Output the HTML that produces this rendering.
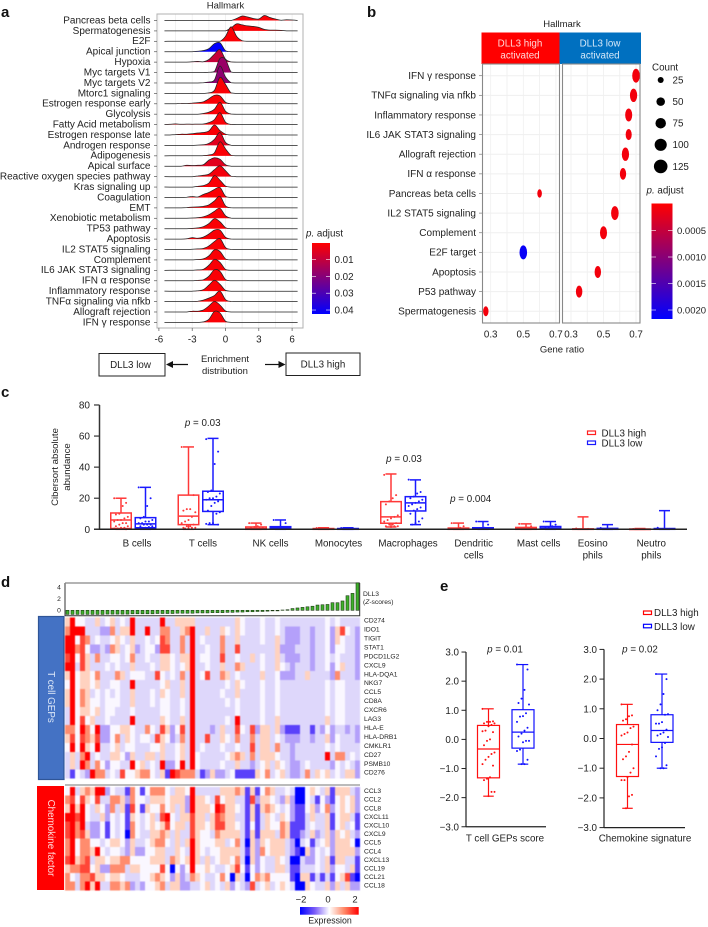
<!DOCTYPE html>
<html lang="en">
<head>
<meta charset="utf-8">
<title>DLL3 hallmark enrichment and immune figure</title>
<style>
html,body{margin:0;padding:0;background:#fff;}
svg{display:block;font-family:"Liberation Sans",Arial,sans-serif;fill:#222;filter:blur(0.3px);}
.pl{font-size:15px;font-weight:bold;fill:#111;}
</style>
</head>
<body>
<svg id="fig" xmlns="http://www.w3.org/2000/svg" width="708" height="927" viewBox="0 0 708 927">
<defs>
<linearGradient id="gradRB" x1="0" y1="0" x2="0" y2="1"><stop offset="0" stop-color="#ff0000"/><stop offset="1" stop-color="#0000ff"/></linearGradient>
<linearGradient id="gradHeat" x1="0" y1="0" x2="1" y2="0"><stop offset="0" stop-color="#0000ff"/><stop offset="0.25" stop-color="#7a5cf8"/><stop offset="0.5" stop-color="#ffffff"/><stop offset="0.75" stop-color="#ff8a68"/><stop offset="1" stop-color="#ff0000"/></linearGradient>
</defs>

<text class="pl" x="1" y="17">a</text>
<text class="pl" x="367" y="17">b</text>
<text class="pl" x="1" y="397">c</text>
<text class="pl" x="1" y="587">d</text>
<text class="pl" x="440" y="591">e</text>

<!-- Panel a -->
<g id="panelA">
<text x="225.5" y="8.5" font-size="9.5" text-anchor="middle">Hallmark</text>
<rect x="157" y="14" width="146" height="314" fill="#fff" stroke="#b0b0b0" stroke-width="1"/>
</g>
<g id="ridgeMarks"></g>
<text x="306" y="236.5" font-size="9.8"><tspan font-style="italic">p.</tspan> adjust</text>
<rect x="312" y="243" width="18" height="71" fill="url(#gradRB)"/>
<g id="ridgeLegend"></g>
<rect x="99" y="353.5" width="66" height="22.5" fill="#fff" stroke="#222" stroke-width="1"/>
<text x="130.5" y="368" font-size="9.8" text-anchor="middle">DLL3 low</text>
<rect x="286" y="353" width="74" height="22.5" fill="#fff" stroke="#222" stroke-width="1"/>
<text x="323" y="367.5" font-size="9.8" text-anchor="middle">DLL3 high</text>
<text x="225" y="362" font-size="9.5" text-anchor="middle">Enrichment</text>
<text x="225" y="374" font-size="9.5" text-anchor="middle">distribution</text>
<path d="M188 364.5H170" stroke="#111" stroke-width="1.2" fill="none"/>
<path d="M166 364.5l7-3.5v7z" fill="#111"/>
<path d="M265 364.5H281" stroke="#111" stroke-width="1.2" fill="none"/>
<path d="M285.5 364.5l-7-3.5v7z" fill="#111"/>

<!-- Panel b -->
<text x="562" y="27" font-size="9.5" text-anchor="middle">Hallmark</text>
<rect x="481.5" y="32.5" width="78" height="31.5" fill="#ff0000"/>
<rect x="559.5" y="32.5" width="81.5" height="31.5" fill="#0070c0"/>
<text x="520" y="46.5" font-size="9.8" style="fill:#ffd9d9" text-anchor="middle">DLL3 high</text>
<text x="520" y="58.5" font-size="9.8" style="fill:#ffd9d9" text-anchor="middle">activated</text>
<text x="600" y="46.5" font-size="9.8" style="fill:#d5e8f8" text-anchor="middle">DLL3 low</text>
<text x="600" y="58.5" font-size="9.8" style="fill:#d5e8f8" text-anchor="middle">activated</text>
<g id="dotMarks"></g>
<text x="562" y="352.5" font-size="9.5" text-anchor="middle">Gene ratio</text>
<text x="652" y="70.5" font-size="9.8">Count</text>
<g id="countLegend"></g>
<text x="646.5" y="193.5" font-size="9.8"><tspan font-style="italic">p.</tspan> adjust</text>
<rect x="651.5" y="203.5" width="21" height="115.5" fill="url(#gradRB)"/>
<g id="dotLegend"></g>

<!-- Panel c -->
<g id="boxC"></g>
<text transform="translate(58,467) rotate(-90)" font-size="9.6" text-anchor="middle">Cibersort absolute</text>
<text transform="translate(70,467) rotate(-90)" font-size="9.6" text-anchor="middle">abundance</text>
<g font-size="9.8" text-anchor="middle">
<text x="137" y="546.5">B cells</text>
<text x="203" y="546.5">T cells</text>
<text x="270.5" y="546.5">NK cells</text>
<text x="338.5" y="546.5">Monocytes</text>
<text x="408" y="546.5">Macrophages</text>
<text x="473.7" y="546.5">Dendritic</text>
<text x="473.7" y="558.5">cells</text>
<text x="538.7" y="546.5">Mast cells</text>
<text x="592.7" y="546.5">Eosino</text>
<text x="592.7" y="558.5">phils</text>
<text x="651.3" y="546.5">Neutro</text>
<text x="651.3" y="558.5">phils</text>
</g>
<text x="202.7" y="426" font-size="9.8" text-anchor="middle"><tspan font-style="italic">p</tspan> = 0.03</text>
<text x="404" y="462" font-size="9.8" text-anchor="middle"><tspan font-style="italic">p</tspan> = 0.03</text>
<text x="470.7" y="502" font-size="9.8" text-anchor="middle"><tspan font-style="italic">p</tspan> = 0.004</text>
<rect x="587.5" y="431" width="8" height="3.5" fill="none" stroke="#ff2020" stroke-width="1.2"/>
<rect x="587.5" y="441" width="8" height="3.5" fill="none" stroke="#1a1aff" stroke-width="1.2"/>
<text x="601.5" y="436.7" font-size="9.8">DLL3 high</text>
<text x="601.5" y="446.3" font-size="9.8">DLL3 low</text>

<!-- Panel d -->
<g id="heatBars"></g>
<text x="363" y="596" font-size="6.7">DLL3</text>
<text x="363" y="604" font-size="6.7">(<tspan font-style="italic">Z</tspan>-scores)</text>
<rect x="38.5" y="616.5" width="25.5" height="163" fill="#4472c4" stroke="#2f5597" stroke-width="1.2"/>
<text transform="translate(48,697) rotate(90)" font-size="9.8" style="fill:#dbe6f7" text-anchor="middle">T cell GEPs</text>
<rect x="37" y="786" width="27" height="104" fill="#ff0000"/>
<text transform="translate(48,838) rotate(90)" font-size="9.8" style="fill:#ffd9d9" text-anchor="middle">Chemokine factor</text>
<g id="heatCells" style="filter:blur(0.5px)"></g>
<g id="heatLabels"></g>
<path d="M65 785H360" stroke="#777" stroke-width="1"/>
<rect x="300" y="907" width="58.7" height="7.7" fill="url(#gradHeat)"/>
<g font-size="9.5" text-anchor="middle">
<text x="301" y="902.5">−2</text>
<text x="328" y="902.5">0</text>
<text x="355" y="902.5">2</text>
</g>
<text x="330" y="923.5" font-size="8.8" text-anchor="middle">Expression</text>

<!-- Panel e -->
<g id="boxE"></g>
<rect x="643.5" y="611" width="8" height="3.5" fill="none" stroke="#ff0000" stroke-width="1.2"/>
<rect x="643.5" y="624.3" width="8" height="3.5" fill="none" stroke="#0000ff" stroke-width="1.2"/>
<text x="654" y="616" font-size="9.8">DLL3 high</text>
<text x="654" y="629.8" font-size="9.8">DLL3 low</text>
<text x="505" y="652.5" font-size="9.8" text-anchor="middle"><tspan font-style="italic">p</tspan> = 0.01</text>
<text x="640" y="652.5" font-size="9.8" text-anchor="middle"><tspan font-style="italic">p</tspan> = 0.02</text>
<text x="505" y="841.5" font-size="9.8" text-anchor="middle">T cell GEPs score</text>
<text x="645" y="841.5" font-size="9.8" text-anchor="middle">Chemokine signature</text>
</svg>

<script>
/* ---------- Panel a data ---------- */
var ridgeLabels = ["Pancreas beta cells","Spermatogenesis","E2F","Apical junction","Hypoxia","Myc targets V1","Myc targets V2","Mtorc1 signaling","Estrogen response early","Glycolysis","Fatty Acid metabolism","Estrogen response late","Androgen response","Adipogenesis","Apical surface","Reactive oxygen species pathway","Kras signaling up","Coagulation","EMT","Xenobiotic metabolism","TP53 pathway","Apoptosis","IL2 STAT5 signaling","Complement","IL6 JAK STAT3 signaling","IFN α response","Inflammatory response","TNFα signaling via nfkb","Allograft rejection","IFN γ response"];
var ridgeP = [0.001,0.001,0.001,0.042,0.0095,0.017,0.019,0.001,0.001,0.001,0.001,0.001,0.005,0.001,0.005,0.002,0.001,0.001,0.001,0.001,0.001,0.001,0.001,0.001,0.001,0.001,0.001,0.001,0.001,0.001];
var ridgeGrid = [-5.5,-5,-4.5,-4,-3.5,-3,-2.5,-2,-1.5,-1,-0.5,0,0.5,1,1.5,2,2.5,3,3.5,4,4.5,5,5.5,6,6.5];
var ridgeDensity = [
[0,0,0,0,0,0,0,0,0,0,0,0,0,2,4.5,3.5,2,1.5,5,3,1.5,0.3,0.7,0.5,0],
[0,0,0,0,0,0,0,0,0,0,0,0,3,7,6,5,4.5,3.5,1.5,0.8,0.8,0.5,0,0,0],
[0,0,0,0,0,0,0,0,0,0,0,5,14.5,5,0.6,0,0,0,0,0,0,0,0,0,0],
[0,0,0,0,0,0,0.4,1.2,3,8,9,1,0,0,0,0,0,0,0,0,0,0,0,0,0],
[0,0,0,0,0,0.3,0.7,0.3,2.5,8,12.5,3,0.2,0,0,0,0,0,0,0,0,0,0,0,0],
[0,0,0,0,0,0,0,0,0.2,1,14,13,0.5,0,0,0,0,0,0,0,0,0,0,0,0],
[0,0,0,0,0,0,0,0.3,1,3,17,6,0.3,0,0,0,0,0,0,0,0,0,0,0,0],
[0,0,0,0,0,0,0,0,0.5,3,16,9,0.5,0,0,0,0,0,0,0,0,0,0,0,0],
[0,0,0,0.3,0.2,0.7,1.2,2,5,8.5,8,1.5,0,0,0,0,0,0,0,0,0,0,0,0,0],
[0,0,0,0,0,0,0,0.7,2,5,12,3,0.2,0,0,0,0,0,0,0,0,0,0,0,0],
[0,0.3,0.7,0.3,0.5,0.4,0.5,0.6,2,5,12,2.5,0.2,0,0,0,0,0,0,0,0,0,0,0,0],
[0,0,0.4,0.8,0.8,1.3,2,2.5,4,10,4.5,0.8,0,0,0,0,0,0,0,0,0,0,0,0,0],
[0,0,0,0,0,0,0.3,0.6,2,6,13,3,0.2,0,0,0,0,0,0,0,0,0,0,0,0],
[0,0,0,0,0,0,0,0.2,0.8,3,14,7,0.5,0,0,0,0,0,0,0,0,0,0,0,0],
[0,0,0,0,1,0.7,1,1.5,6,8.5,7,1.5,0,0,0,0,0,0,0,0,0,0,0,0,0],
[0,0,0,0,0,0,0.7,1.3,2.5,7,11,6,0.5,0,0,0,0,0,0,0,0,0,0,0,0],
[0,0,0,0,0,0,0.7,1.5,4,11.5,7,1,0,0,0,0,0,0,0,0,0,0,0,0,0],
[0,0,0,0,0.3,1,0.5,3,5,8,10,1.2,0,0,0,0,0,0,0,0,0,0,0,0,0],
[0,0,0,0,0.3,0.8,1,1.5,3,7,11.5,2,0.1,0,0,0,0,0,0,0,0,0,0,0,0],
[0,0,0,0,0,0.3,0.7,1.5,3.5,7,10,2.5,0.2,0,0,0,0,0,0,0,0,0,0,0,0],
[0,0,0,0,0,0.3,0.8,2,5,10,7,1,0,0,0,0,0,0,0,0,0,0,0,0,0],
[0,0,0,0,0.3,1.5,0.8,2,5,9,9,1.8,0.1,0,0,0,0,0,0,0,0,0,0,0,0],
[0,0,0,0,0,0.3,0.6,1,3.5,8,11,2,0.1,0,0,0,0,0,0,0,0,0,0,0,0],
[0,0,0,0,0,0,0.4,1,4,10,8.5,1,0,0,0,0,0,0,0,0,0,0,0,0,0],
[0,0,0,0,0,0,0.4,1,5,11,8,0.8,0,0,0,0,0,0,0,0,0,0,0,0,0],
[0,0,0,0,0,0,0.4,1,4.5,11,9.5,1.2,0,0,0,0,0,0,0,0,0,0,0,0,0],
[0,0,0,0,0,0,0.4,1.5,6,11,7,0.8,0,0,0,0,0,0,0,0,0,0,0,0,0],
[0,0,0,0,0,0,0.3,1.5,3.5,6,10.5,2,0.1,0,0,0,0,0,0,0,0,0,0,0,0],
[0,0,0,0,0,0.8,0.8,2,6,10.5,7,1,0,0,0,0,0,0,0,0,0,0,0,0,0],
[0,0,0,0,0,0,0,0.5,3,11,9.5,1.2,0,0,0,0,0,0,0,0,0,0,0,0,0]
];
var ridgeTicks = [-6,-3,0,3,6];
var ridgeLegendTicks = [0.01,0.02,0.03,0.04];

/* ---------- Panel b data ---------- */
var dotLabels = ["IFN γ response","TNFα signaling via nfkb","Inflammatory response","IL6 JAK STAT3 signaling","Allograft rejection","IFN α response","Pancreas beta cells","IL2 STAT5 signaling","Complement","E2F target","Apoptosis","P53 pathway","Spermatogenesis"];
var dotRatio = [0.70,0.685,0.655,0.655,0.635,0.62,0.60,0.57,0.50,0.50,0.465,0.35,0.27];
var dotFacet = ["low","low","low","low","low","low","high","low","low","high","low","low","high"];
var dotCount = [125,110,100,60,110,70,20,125,100,125,75,75,40];
var dotP = [0.0001,0.0001,0.0001,0.0001,0.0001,0.0001,0.0001,0.0001,0.0001,0.0021,0.0001,0.0001,0.0001];
var ratioTicks = [0.3,0.5,0.7];
var countLegendValues = [25,50,75,100,125];
var dotLegendTicks = [0.0005,0.0010,0.0015,0.0020];

/* ---------- Panel c data ---------- */
var cTicks = [0,20,40,60,80];
var cHighStats = [[0,0.5,6,10.5,20],[0,3,8.5,22,53],[0,0,0.5,1.5,4],[0,0,0.1,0.5,1],[1.5,3.9,8,17.8,35.6],[0,0,0.3,0.8,4],[0,0,0.5,1.2,3.5],[0,0,0,0.3,8],[0,0,0,0.2,0.5]];
var cLowStats = [[0,1,3.5,7.5,27],[3,11.5,19,24.5,58.5],[0,0.2,1,1.7,6],[0,0,0.1,0.5,1],[3,11.8,17,21,31.8],[0,0.2,0.5,1,5],[0,0.3,0.8,1.8,5],[0,0,0.2,0.6,3],[0,0,0.2,0.5,12]];
var cHighPoints = [
[20,17,15,10,9.5,8,7,6,6,5,4,4,3,2,2,1,1,0.5,0.5,0],
[53,22,13,13,12,11,8,6,5,4,3,2,2,1,1,1,0.5,0.5],
[4,3,2,1.5,1,1,0.5,0.5],
[0.8,0.5,0.3],
[35,22,20,18,16,9,8,7,6,5,4,3,3,2,2,2,1.5],
[4,2,1,0.5],
[3.5,2,1,1,0.5],
[0.5,0.3],
[0.2]
];
var cLowPoints = [
[27,20,15,8,7,6,5,5,4,4,3,3,3,2,2,1.5,1,1,0.5,0.5],
[58,50,42,25,24,23,21,20,20,19,18,17,15,12,11,10,4,4,3.5,3],
[6,4,1.5,1,1,1,0.5,0.5,0.5],
[0.8,0.5,0.3],
[32,24,23,21,20,19,18,17,16,15,14,13,12,10,7,5,4,3],
[5,3,1,0.5,0.5],
[5,3,2,1,1,0.5,0.5],
[0.8,0.3],
[1,0.3]
];

/* ---------- Panel d data ---------- */
var dll3Z = [-0.7,-0.7,-0.7,-0.7,-0.7,-0.7,-0.7,-0.7,-0.65,-0.65,-0.65,-0.65,-0.65,-0.6,-0.6,-0.6,-0.6,-0.6,-0.55,-0.55,-0.55,-0.55,-0.5,-0.5,-0.5,-0.5,-0.45,-0.45,-0.45,-0.4,-0.4,-0.4,-0.35,-0.35,-0.3,-0.3,-0.25,-0.25,-0.2,-0.2,-0.15,-0.1,-0.1,0.05,0.1,0.3,0.4,0.5,0.6,0.7,0.9,0.95,1,1.3,1.3,1.6,2.5,2.9,4.7];
var tGenes = ["CD274","IDO1","TIGIT","STAT1","PDCD1LG2","CXCL9","HLA-DQA1","NKG7","CCL5","CD8A","CXCR6","LAG3","HLA-E","HLA-DRB1","CMKLR1","CD27","PSMB10","CD276"];
var chemoGenes = ["CCL3","CCL2","CCL8","CXCL11","CXCL10","CXCL9","CCL5","CCL4","CXCL13","CCL19","CCL21","CCL18"];
var zTicks = [0,2,4];
/* expression values in half-units (value × 0.5 = z-score) */
var tExpression = [
[1,4,0,0,-1,-1,1,-1,0,1, -1,0,-1,4,-1,-1,-1,-1,-1,4, -1,-1,1,1,1,1,-1,-1,-1,-1, -1,-1,-1,-1,1,0,-1,-1,-1,0, -1,-1,0,-1,-1,-1,-1,-1,-1,-1, -1,-1,0,-1,0,-1,-1,-1,-1],
[2,4,4,4,-1,-1,-1,-2,-2,2, -1,1,1,4,-1,-1,4,-1,-1,2, 2,-1,-1,1,2,4,-1,-1,1,-1, -1,1,0,-1,1,0,-1,-1,-1,0, -1,-1,0,-1,-2,-2,-2,-1,-1,-2, -1,-1,0,-2,1,3,0,-1,-2],
[4,4,0,3,2,-1,0,-1,-1,0, 1,0,-1,1,-1,-1,0,-1,0,3, 2,-1,-1,2,-1,4,-1,0,-1,-1, -1,2,-1,-1,1,-1,-1,-1,-1,0, -1,-1,1,-1,-2,-2,-2,-1,-1,-2, -1,-1,0,-2,1,0,-1,-1,-2],
[4,4,2,3,0,-2,-2,-1,-2,2, 1,-1,0,1,-2,-1,0,0,-2,3, 3,-1,-1,2,-1,4,-1,-1,0,-1, -1,2,-1,-1,3,-1,-1,-1,-1,-1, -1,-1,1,-2,-2,-2,-1,-1,-1,-2, -1,-1,0,-2,0,0,-1,-1,-2],
[3,4,0,3,1,-1,2,-1,-1,0, 0,-1,0,2,-1,-1,0,-1,-1,1, 1,0,-1,1,1,4,-1,0,0,-1, -1,3,-1,-1,0,-1,-1,1,-1,0, -1,-1,1,-1,-2,-2,-2,-1,-1,-2, -1,-1,0,-1,0,-1,-1,-1,-2],
[4,4,-1,3,1,-1,-1,-1,0,-1, 0,-1,-1,1,-1,-1,-1,0,-1,1, 1,0,-1,0,1,4,-1,-1,0,-1, -1,1,-1,-1,2,1,-1,-1,-1,0, -1,-1,1,0,-1,-2,-1,-1,-1,-2, -1,-1,0,-2,0,1,-1,-1,-2],
[1,4,0,1,1,0,2,-1,-1,-1, 2,1,-1,0,0,0,-1,-1,3,0, -1,0,-1,2,-1,4,-1,0,3,-1, -1,2,1,-1,0,-1,-1,-1,-1,1, -1,-1,0,-2,-2,-2,-1,-1,1,-1, -1,-1,-1,-2,2,-1,-1,-1,-2],
[0,4,0,1,1,0,1,-1,-1,0, 0,-1,-1,4,-1,-1,-1,-1,-1,0, 1,-1,-1,1,-1,4,-1,-1,-1,-1, -1,-1,0,-1,1,0,-1,-1,-1,0, -1,-1,0,-1,-1,-1,-1,-1,-1,-1, -1,-1,0,-1,0,0,-1,-1,-1],
[1,4,0,2,1,-1,0,-1,0,-1, 0,-1,-1,1,-1,-1,-1,0,-1,1, 0,-1,-1,1,-1,4,-1,-1,-1,-1, -1,0,-1,-1,1,-1,-1,-1,-1,0, -1,-1,0,-1,-1,-1,-1,-1,-1,-1, -1,-1,0,-1,0,0,-1,-1,-1],
[1,4,0,2,1,0,0,-1,0,0, 0,-1,-1,1,-1,-1,-1,0,-1,0, 0,-1,-1,0,-1,4,-1,-1,-1,-1, -1,-1,0,-1,0,-1,-1,-1,-1,0, -1,-1,0,-1,-1,-1,-1,-1,-1,-1, -1,-1,0,-1,0,0,-1,-1,-1],
[-1,4,0,1,1,0,1,-1,0,0, -1,-1,-1,0,-1,-1,-1,-1,-1,0, 0,-1,-1,0,-1,4,-1,-1,-1,-1, -1,-1,-1,-1,0,-1,-1,-1,-1,0, -1,-1,0,-1,-1,-1,-1,-1,-1,-1, -1,-1,0,-1,0,0,-1,-1,-1],
[-1,4,0,3,0,1,-1,-1,0,-1, -1,-1,-1,4,-1,-1,-1,-1,-1,1, 0,-1,-1,1,-1,4,-1,-1,-1,-1, -1,-1,0,-1,4,-1,-1,-1,-1,0, -1,-1,1,-1,-1,-1,-1,-1,-1,-1, -1,-1,1,-1,0,0,-1,-1,-1],
[2,2,0,4,2,0,4,-2,-2,0, 0,1,1,0,-1,-1,2,0,-1,3, 1,-2,0,3,-1,4,-1,-1,-1,-2, -1,1,-1,-1,3,0,-1,3,-2,1, 1,-1,1,-2,-3,-3,-3,-1,-1,-3, -1,-2,0,-2,-1,-1,-2,-1,-2],
[1,3,0,3,2,1,3,-2,-2,0, 2,-1,1,0,-1,0,0,-1,3,1, 0,-2,-1,2,-1,4,-1,-1,3,-1, -1,1,0,-1,2,-1,-1,2,-1,1, 1,-1,0,-1,-2,-2,-2,-1,-1,-2, -1,-1,1,-2,0,-1,-1,-1,-2],
[0,4,0,4,1,0,4,-1,-1,0, 1,-1,0,0,-1,-1,-1,0,0,1, -1,-1,0,1,-1,4,-1,0,-1,-1, -1,0,-1,-1,0,-1,-1,3,-1,1, 1,-1,2,-1,-1,-2,-1,-1,-1,-1, -1,-1,0,-1,0,-1,-1,-1,-1],
[-1,1,-1,2,4,-1,0,-1,-1,1, 1,0,-2,1,-1,-1,1,1,-1,1, -1,-1,0,1,-1,4,0,-1,-1,-1, -1,-1,0,1,2,1,-1,2,-1,1, 1,1,0,-1,-1,-2,-1,-1,-1,-1, -1,-1,4,-1,2,2,-1,0,-1],
[-1,1,-1,4,2,-1,2,0,-2,0, 0,-1,-1,4,0,1,-1,0,-1,4, -2,-2,0,4,-1,4,0,-1,-1,-1, -1,0,-1,-1,1,-1,-1,-2,-1,0, 1,-1,1,0,-1,-2,-2,-1,0,-1, -1,-1,-1,-2,0,-1,0,-1,-2],
[-1,-3,0,-1,-2,4,2,2,-1,0, -1,3,0,0,1,2,2,0,-1,1, -3,4,3,2,2,2,-1,-3,-2,1, -2,-2,-1,0,-3,-3,-3,-3,1,0, 2,-1,0,1,-1,-2,-2,-1,2,-1, 1,0,1,-1,0,-1,1,1,-2]
];
var chemoExpression = [
[0,4,-1,1,2,1,4,4,-2,0, -1,-1,-3,2,0,-3,0,2,2,2, 0,-1,1,1,0,4,-1,-1,-1,-1, -1,1,1,1,2,1,-3,1,-3,0, 2,1,-1,-1,0,-1,-4,-4,0,1, 0,-1,1,-3,1,1,1,-1,-2],
[2,3,0,3,1,0,3,-1,-1,2, 2,1,-2,2,0,0,-1,1,1,1, 0,1,1,1,-2,4,1,1,0,-1, 3,0,1,1,-1,-1,-3,3,-2,1, 1,0,-1,-2,1,-2,-4,-4,0,-1, -3,0,-2,-3,0,1,0,1,-2],
[1,4,1,4,0,-1,1,0,-2,2, -1,1,-3,3,0,-3,1,0,0,2, 0,1,-1,1,-2,4,1,1,1,0, 4,3,1,1,0,-1,-3,1,-3,1, 2,1,0,-1,0,-2,-3,-3,0,1, -2,0,2,-2,0,1,0,1,-2],
[4,4,3,4,0,-1,-1,1,-2,0, -1,0,-3,1,0,-1,0,1,-1,3, 4,0,-1,1,1,3,1,1,-1,1, 3,2,1,1,-1,-1,-3,1,-3,-1, 1,0,-1,1,0,-2,-3,-3,-1,1, -1,-1,1,-3,0,1,1,-1,-3],
[3,4,2,4,-1,-2,-2,0,-3,0, -1,0,-3,2,0,-1,0,1,0,1, 3,0,1,1,-1,3,1,1,0,1, 3,3,1,1,0,-1,-3,0,-3,-1, 1,0,0,2,1,-3,-3,-3,-1,0, -1,-1,1,-3,0,1,-1,0,-3],
[3,4,2,3,1,-2,-2,0,-3,0, -1,0,-4,2,0,-1,-1,1,1,2, 1,-1,1,-1,-1,3,1,0,0,-1, 2,1,1,1,1,-1,-3,1,-3,1, 1,1,-1,2,1,-3,-3,-2,-1,1, -2,-1,1,-2,1,0,1,-1,-2],
[2,4,0,2,2,0,0,-1,0,1, 1,0,-2,1,-1,-1,0,1,2,2, 0,-1,1,-1,1,4,1,0,0,0, 1,1,-1,0,2,-1,-4,1,-2,1, 0,1,1,1,-1,-2,-4,-1,0,-3, -1,0,1,-2,1,1,1,0,-4],
[2,4,0,2,2,1,4,0,-1,0, 0,-1,-2,1,-2,-2,0,0,1,1, -1,-1,1,0,-1,4,1,0,-1,0, 0,1,1,1,1,-1,-3,1,-2,2, 0,1,1,1,-1,-2,-3,-4,1,-2, 0,-1,0,-2,1,1,1,1,-2],
[3,4,1,2,3,-1,1,1,0,1, 1,2,2,0,0,0,0,1,1,1, -1,2,1,0,1,4,1,-1,1,-1, 0,1,1,0,2,-1,-4,1,-2,0, -1,-1,1,0,-1,-4,-4,-1,-2,-2, 0,-1,1,-3,1,1,-1,-1,-3],
[1,2,2,3,3,0,1,-2,-2,2, 2,2,-1,1,1,0,0,0,0,3, 0,-4,0,-2,0,4,0,0,1,0, -1,-1,0,1,3,0,-3,0,-2,0, -1,-1,1,1,-1,-3,-3,-1,-1,-1, 0,-1,1,-2,0,0,-1,1,-3],
[2,0,-1,2,2,3,1,1,0,1, 1,0,-1,-1,-1,0,0,1,2,1, 0,-2,1,-2,-1,2,1,0,-1,-1, 0,2,0,-4,1,-1,-4,0,2,1, 2,0,0,0,0,-3,-4,1,1,-3, -1,-3,-1,-3,0,1,3,-3,-4],
[2,2,-1,2,4,1,4,-1,-1,2, 2,1,2,-2,-1,-2,0,0,1,2, -1,1,1,-2,-2,-1,-1,0,1,-1, 0,-1,1,-2,0,-1,-2,3,-1,0, 1,-1,0,1,0,-1,-4,-4,1,0, -1,-1,1,-2,1,-1,1,-2,-2]
];

/* ---------- Panel e data ---------- */
var eTickValues = [3,2,1,0,-1,-2,-3];
var gepsHighStats = [-1.95,-1.32,-0.33,0.48,1.05];
var gepsLowStats = [-0.85,-0.3,0.25,1.02,2.57];
var chemoHighStats = [-2.35,-1.28,-0.2,0.47,1.15];
var chemoLowStats = [-1,-0.13,0.27,0.8,2.17];
var gepsHighPoints = [1.05,0.62,0.6,0.6,0.55,0.55,0.5,0.45,0.3,0.28,0.25,0,-0.05,-0.2,-0.45,-0.5,-0.6,-0.7,-0.85,-0.9,-1.3,-1.35,-1.4,-1.8,-1.8,-1.95];
var gepsLowPoints = [2.57,2.4,1.7,1.4,1.25,1.2,0.9,0.8,0.78,0.6,0.4,0.3,0.2,0.1,-0.05,-0.05,-0.1,-0.35,-0.4,-0.7,-0.85,-0.85];
var chemoHighPoints = [1.15,0.78,0.75,0.65,0.6,0.4,0.35,0.2,0.15,0.1,-0.2,-0.45,-0.6,-0.7,-1,-1.15,-1.3,-1.4,-1.4,-1.9,-1.95,-2.35];
var chemoLowPoints = [2.17,2,1.5,1.15,0.95,0.82,0.8,0.55,0.5,0.5,0.3,0.2,0.15,0.1,0.05,-0.15,-0.3,-0.35,-0.6,-0.9,-1,-1];

/* ---------- helpers ---------- */
var NS = "http://www.w3.org/2000/svg";
function add(parent, tag, attrs, txt) {
  var n = document.createElementNS(NS, tag);
  for (var k in attrs) { n.setAttribute(k, attrs[k]); }
  if (txt !== undefined) { n.textContent = txt; }
  parent.appendChild(n);
  return n;
}
function $(id) { return document.getElementById(id); }
function mix(a, b, t) {
  return "rgb(" + Math.round(a[0] + (b[0] - a[0]) * t) + "," + Math.round(a[1] + (b[1] - a[1]) * t) + "," + Math.round(a[2] + (b[2] - a[2]) * t) + ")";
}
function pColor(p, lo, hi) {
  var t = Math.max(0, Math.min(1, (p - lo) / (hi - lo)));
  return mix([255, 0, 0], [0, 0, 255], t);
}

/* ---------- Panel a ---------- */
(function () {
  var g = $("ridgeMarks");
  function xA(v) { return 225.5 + v * 11.1; }
  function yA(i) { return 20.5 + i * 10.41; }
  var gridVals = [-6, -4.5, -3, -1.5, 0, 1.5, 3, 4.5, 6];
  gridVals.forEach(function (v) {
    var el = add(g, "line", { x1: xA(v), x2: xA(v), y1: 14.5, y2: 327.5, stroke: "#eeeeee", "stroke-width": 0.8 });
    
    
  });
  ridgeLabels.forEach(function (label, i) {
    var y0 = yA(i);
    var lab = add(g, "text", { x: 150.5, y: y0 + 2.9, "font-size": 10, "text-anchor": "end" }, label);
    
    
    var tk = add(g, "line", { x1: 154, x2: 157, y1: y0, y2: y0, stroke: "#555", "stroke-width": 0.7 });
    
    
  });
  ridgeLabels.forEach(function (label, i) {
    var y0 = yA(i);
    var d = ridgeDensity[i];
    var pts = ridgeGrid.map(function (v, k) { return [xA(v), y0 - d[k]]; });
    var path = "M" + pts[0][0] + " " + pts[0][1];
    for (var k = 0; k < pts.length - 1; k++) {
      var p0 = pts[Math.max(0, k - 1)], p1 = pts[k], p2 = pts[k + 1], p3 = pts[Math.min(pts.length - 1, k + 2)];
      var c1x = p1[0] + (p2[0] - p0[0]) / 6, c1y = Math.min(y0, p1[1] + (p2[1] - p0[1]) / 6);
      var c2x = p2[0] - (p3[0] - p1[0]) / 6, c2y = Math.min(y0, p2[1] - (p3[1] - p1[1]) / 6);
      path += "C" + c1x.toFixed(1) + " " + c1y.toFixed(1) + " " + c2x.toFixed(1) + " " + c2y.toFixed(1) + " " + p2[0].toFixed(1) + " " + p2[1].toFixed(1);
    }
    var area = add(g, "path", { d: path + "L" + pts[pts.length - 1][0] + " " + y0 + "L" + pts[0][0] + " " + y0 + "Z", fill: pColor(ridgeP[i], 0.0002, 0.0424), stroke: "none" });
    
    
    var line = add(g, "path", { d: path, fill: "none", stroke: "#222", "stroke-width": 0.75 });
    
    
  });
  ridgeTicks.forEach(function (v) {
    var tk = add(g, "line", { x1: xA(v), x2: xA(v), y1: 328, y2: 331, stroke: "#555", "stroke-width": 0.7 });
    
    
    var t = add(g, "text", { x: xA(v), y: 342.5, "font-size": 9.8, "text-anchor": "middle" }, String(v));
    
    
  });
  var lg = $("ridgeLegend");
  ridgeLegendTicks.forEach(function (v) {
    var y = 242.7 + v * 1683;
    var a = add(lg, "line", { x1: 312, x2: 316, y1: y, y2: y, stroke: "#fff", "stroke-width": 0.6 });
    
    
    var b = add(lg, "line", { x1: 326, x2: 330, y1: y, y2: y, stroke: "#fff", "stroke-width": 0.6 });
    
    
    var t = add(lg, "text", { x: 334.5, y: y + 3.4, "font-size": 9.8 }, v.toFixed(2));
    
    
  });
})();

/* ---------- Panel b ---------- */
(function () {
  var g = $("dotMarks");
  function xHigh(r) { return 490.7 + (r - 0.3) * 163; }
  function xLow(r) { return 571 + (r - 0.3) * 162.5; }
  function yB(i) { return 75.7 + i * 19.63; }
  var bg1 = add(g, "rect", { x: 482.5, y: 64, width: 77, height: 259, fill: "#fff" });
  
  
  var bg2 = add(g, "rect", { x: 562.5, y: 64, width: 77.5, height: 259, fill: "#fff" });
  
  
  [0.3, 0.4, 0.5, 0.6, 0.7].forEach(function (r) {
    var a = add(g, "line", { x1: xHigh(r), x2: xHigh(r), y1: 64, y2: 323, stroke: "#efefef", "stroke-width": 0.8 });
    
    
    var b = add(g, "line", { x1: xLow(r), x2: xLow(r), y1: 64, y2: 323, stroke: "#efefef", "stroke-width": 0.8 });
    
    
  });
  dotLabels.forEach(function (label, i) {
    var y = yB(i);
    var a = add(g, "line", { x1: 482.5, x2: 559.5, y1: y, y2: y, stroke: "#efefef", "stroke-width": 1 });
    
    
    var b = add(g, "line", { x1: 562.5, x2: 640, y1: y, y2: y, stroke: "#efefef", "stroke-width": 1 });
    
    
    var t = add(g, "text", { x: 476, y: y + 3.3, "font-size": 10, "text-anchor": "end" }, label);
    
    
    var tk = add(g, "line", { x1: 479, x2: 482, y1: y, y2: y, stroke: "#777", "stroke-width": 0.7 });
    
    
  });
  var f1 = add(g, "rect", { x: 482.5, y: 64, width: 77, height: 259, fill: "none", stroke: "#888", "stroke-width": 1.1 });
  
  
  var f2 = add(g, "rect", { x: 562.5, y: 64, width: 77.5, height: 259, fill: "none", stroke: "#888", "stroke-width": 1.1 });
  
  
  dotLabels.forEach(function (label, i) {
    var r = dotRatio[i];
    var ry = 2.4 + Math.sqrt(dotCount[i] / 125) * 4.6;
    var x = dotFacet[i] === "high" ? xHigh(r) : xLow(r);
    var el = add(g, "ellipse", { cx: x, cy: yB(i), rx: ry * 0.54, ry: ry, fill: pColor(dotP[i], 0, 0.00217) });
    
    
  });
  ratioTicks.forEach(function (r) {
    var a = add(g, "text", { x: xHigh(r), y: 337.5, "font-size": 9.8, "text-anchor": "middle" }, r.toFixed(1));
    
    
    var b = add(g, "text", { x: xLow(r), y: 337.5, "font-size": 9.8, "text-anchor": "middle" }, r.toFixed(1));
    
    
  });
  var cl = $("countLegend");
  countLegendValues.forEach(function (c, i) {
    var y = 80 + i * 21.6;
    var r = 3 + (Math.sqrt(c / 125) - 0.447) / 0.553 * 3.8;
    var el = add(cl, "circle", { cx: 660.7, cy: y, r: r, fill: "#000" });
    
    
    var t = add(cl, "text", { x: 672.5, y: y + 3.4, "font-size": 9.8 }, String(c));
    
    
  });
  var dl = $("dotLegend");
  dotLegendTicks.forEach(function (v) {
    var y = 204 + v * 53000;
    var a = add(dl, "line", { x1: 651.5, x2: 656, y1: y, y2: y, stroke: "#fff", "stroke-width": 0.6 });
    
    
    var b = add(dl, "line", { x1: 668, x2: 672.5, y1: y, y2: y, stroke: "#fff", "stroke-width": 0.6 });
    
    
    var t = add(dl, "text", { x: 677, y: y + 3.4, "font-size": 9.5 }, v.toFixed(4));
    
    
  });
})();

/* ---------- box helper ---------- */
function drawBox(g, cx, w, cap, stats, pts, yf, color, sw, jit) {
  var x0 = cx - w / 2;
  var whisk = add(g, "line", { x1: cx, x2: cx, y1: yf(stats[0]), y2: yf(stats[4]), stroke: color, "stroke-width": sw });
  
  
  var capLo = add(g, "line", { x1: cx - cap / 2, x2: cx + cap / 2, y1: yf(stats[0]), y2: yf(stats[0]), stroke: color, "stroke-width": sw });
  
  
  var capHi = add(g, "line", { x1: cx - cap / 2, x2: cx + cap / 2, y1: yf(stats[4]), y2: yf(stats[4]), stroke: color, "stroke-width": sw });
  
  
  var rect = add(g, "rect", { x: x0, y: yf(stats[3]), width: w, height: Math.max(0.5, yf(stats[1]) - yf(stats[3])), fill: "#fff", stroke: color, "stroke-width": sw });
  
  
  var med = add(g, "line", { x1: x0, x2: x0 + w, y1: yf(stats[2]), y2: yf(stats[2]), stroke: color, "stroke-width": sw });
  
  
  pts.forEach(function (v, i) {
    var off = (((i * 7) % 9) - 4) * jit;
    var dot = add(g, "circle", { cx: cx + off, cy: yf(v), r: 1, fill: color });
    
    
  });
}

/* ---------- Panel c ---------- */
(function () {
  var g = $("boxC");
  function yC(v) { return 529.3 - v * 1.554; }
  function catHigh(i) { return i <= 6 ? 121 + 67.5 * i : 526 + 57 * (i - 6); }
  cHighStats.forEach(function (s, i) {
    drawBox(g, catHigh(i), 20.5, 11, s, cHighPoints[i], yC, "#ff3838", 1.5, 1.7);
    drawBox(g, catHigh(i) + 24.5, 20.5, 11, cLowStats[i], cLowPoints[i], yC, "#1a1aff", 1.5, 1.7);
  });
  var ax = add(g, "line", { x1: 99.5, x2: 99.5, y1: 405, y2: 530, stroke: "#333", "stroke-width": 1.5 });
  
  
  var base = add(g, "line", { x1: 94, x2: 687, y1: 529.3, y2: 529.3, stroke: "#222", "stroke-width": 1.5 });
  
  
  cTicks.forEach(function (v) {
    var tk = add(g, "line", { x1: 94, x2: 99.5, y1: yC(v), y2: yC(v), stroke: "#333", "stroke-width": 1.2 });
    
    
    var t = add(g, "text", { x: 90, y: yC(v) + 3.5, "font-size": 10, "text-anchor": "end" }, String(v));
    
    
  });
})();

/* ---------- Panel d ---------- */
(function () {
  var hb = $("heatBars");
  var hc = $("heatCells");
  var hl = $("heatLabels");
  function xCol(i) { return 65 + i * 5; }
  function yZ(v) { return 610.3 - v * 5.83; }
  var frame = add(hb, "path", { d: "M65 616V583", stroke: "#333", "stroke-width": 1, fill: "none" });
  
  
  var top = add(hb, "path", { d: "M65 583H360", stroke: "#888", "stroke-width": 1.2, fill: "none" });
  
  
  var rb = add(hb, "path", { d: "M65 615.7H359.7V583", stroke: "#333", "stroke-width": 1, fill: "none" });
  
  
  zTicks.forEach(function (v) {
    var t = add(hb, "text", { x: 59, y: yZ(v) + 2.4, "font-size": 6.7, "text-anchor": "middle" }, String(v));
    
    
  });
  dll3Z.forEach(function (v, i) {
    var y = Math.min(yZ(v), yZ(0));
    var h = Math.abs(yZ(v) - yZ(0));
    var el = add(hb, "rect", { x: xCol(i) + 1, y: y, width: 3, height: h, fill: "#3fb02c", stroke: "#1d3a14", "stroke-width": 0.6 });
    
    
  });
  var stops = [[-2, [0, 0, 255]], [-1.5, [90, 65, 250]], [-1, [180, 160, 250]], [-0.5, [222, 215, 251]], [0, [250, 247, 255]], [0.5, [255, 210, 192]], [1, [255, 140, 110]], [2, [255, 0, 0]]];
  function heatColor(z) {
    for (var s = 0; s < stops.length - 1; s++) {
      if (z <= stops[s + 1][0]) {
        return mix(stops[s][1], stops[s + 1][1], (z - stops[s][0]) / (stops[s + 1][0] - stops[s][0]));
      }
    }
    return "rgb(255,0,0)";
  }
  function drawHeat(rows, genes, top, step, labelShift) {
    rows.forEach(function (row, r) {
      row.forEach(function (v, c) {
        var cell = add(hc, "rect", { x: xCol(c), y: top + r * step, width: 5.05, height: step + 0.05, fill: heatColor(v * 0.5), "shape-rendering": "crispEdges" });
        
        
      });
      var t = add(hl, "text", { x: 364, y: top + (r + 0.5) * step + labelShift + 2.3, "font-size": 6.7 }, genes[r]);
      
      
    });
  }
  drawHeat(tExpression, tGenes, 617.5, 8.95, -1.7);
  drawHeat(chemoExpression, chemoGenes, 787, 8.6, -0.5);
})();

/* ---------- Panel e ---------- */
(function () {
  var g = $("boxE");
  function yL(v) { return 739.4 - v * 29.12; }
  function yR(v) { return 738.5 - v * 29.7; }
  function axis(x, xEnd, yf) {
    var ax = add(g, "line", { x1: x, x2: x, y1: yf(3), y2: yf(-3), stroke: "#222", "stroke-width": 1.2 });
    
    
    var bx = add(g, "line", { x1: x, x2: xEnd, y1: yf(-3), y2: yf(-3), stroke: "#222", "stroke-width": 1.2 });
    
    
    eTickValues.forEach(function (v) {
      var tk = add(g, "line", { x1: x - 4.5, x2: x, y1: yf(v), y2: yf(v), stroke: "#222", "stroke-width": 1 });
      
      
      var label = (v < 0 ? "−" : "") + Math.abs(v).toFixed(1);
      var t = add(g, "text", { x: x - 7, y: yf(v) + 3.5, "font-size": 9.8, "text-anchor": "end" }, label);
      
      
    });
  }
  axis(466, 546, yL);
  axis(604, 685, yR);
  drawBox(g, 488.5, 22, 10.5, gepsHighStats, gepsHighPoints, yL, "#ff1010", 1.2, 1.5);
  drawBox(g, 523, 22, 10.5, gepsLowStats, gepsLowPoints, yL, "#1010ff", 1.2, 1.5);
  drawBox(g, 627.5, 22, 10.5, chemoHighStats, chemoHighPoints, yR, "#ff1010", 1.2, 1.5);
  drawBox(g, 662, 22, 10.5, chemoLowStats, chemoLowPoints, yR, "#1010ff", 1.2, 1.5);
})();
</script>
</body>
</html>
